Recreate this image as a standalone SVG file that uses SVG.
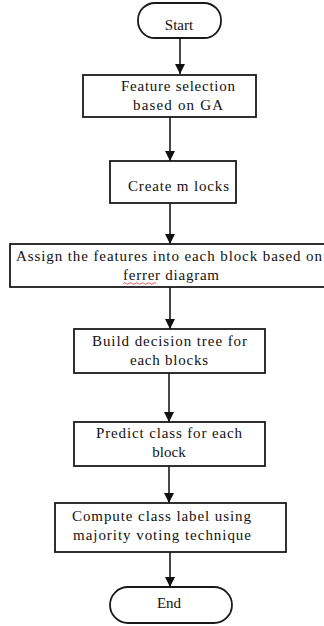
<svg xmlns="http://www.w3.org/2000/svg" width="324" height="626" viewBox="0 0 324 626">
<style>
.box{fill:#fff;stroke:#1a1a1a;stroke-width:1.8}
text{font-family:'Liberation Serif','DejaVu Serif',serif;font-size:15px;fill:#111}
.c{stroke:#1a1a1a;stroke-width:1.6;fill:none;marker-end:url(#ah)}
</style>
<defs>
<marker id="ah" viewBox="0 0 10 10" refX="10" refY="5" markerWidth="10" markerHeight="10" markerUnits="userSpaceOnUse" orient="auto">
<path d="M0,0 L10,5 L0,10 z" fill="#111"/>
</marker>
</defs>
<rect width="324" height="626" fill="#fff"/>
<g id="connectors">
<line class="c" x1="180" y1="38" x2="180" y2="74"/>
<line class="c" x1="170" y1="117" x2="170" y2="161"/>
<line class="c" x1="170" y1="203" x2="170" y2="244"/>
<line class="c" x1="170" y1="287" x2="170" y2="329"/>
<line class="c" x1="169" y1="373" x2="169" y2="422"/>
<line class="c" x1="169" y1="466" x2="169" y2="503"/>
<line class="c" x1="170" y1="552" x2="170" y2="587"/>
</g>
<g id="start">
<rect class="box" x="138" y="3" width="83" height="35" rx="17" ry="17"/>
<text x="179" y="30" text-anchor="middle">Start</text>
</g>
<g id="feature">
<rect class="box" x="83" y="75" width="173" height="42"/>
<text x="121" y="91" textLength="114" lengthAdjust="spacing">Feature selection</text>
<text x="133" y="110" textLength="90" lengthAdjust="spacing">based on GA</text>
</g>
<g id="create">
<rect class="box" x="110" y="161" width="126" height="42"/>
<text x="128" y="191" textLength="101" lengthAdjust="spacing">Create m locks</text>
</g>
<g id="assign">
<rect class="box" x="10" y="244" width="318" height="43"/>
<text x="16" y="261" textLength="306" lengthAdjust="spacing">Assign the features into each block based on</text>
<text x="123" y="280" textLength="96" lengthAdjust="spacing">ferrer diagram</text>
<path d="M123,283.5 q1.5,-1.5 3,0 t3,0 t3,0 t3,0 t3,0 t3,0 t3,0 t3,0 t3,0 t3,0 t3,0" fill="none" stroke="#e03030" stroke-width="0.8"/>
</g>
<g id="build">
<rect class="box" x="74" y="329" width="191" height="44"/>
<text x="92" y="346" textLength="155" lengthAdjust="spacing">Build decision tree for</text>
<text x="130" y="365" textLength="78" lengthAdjust="spacing">each blocks</text>
</g>
<g id="predict">
<rect class="box" x="74" y="422" width="191" height="44"/>
<text x="96" y="438" textLength="146" lengthAdjust="spacing">Predict class for each</text>
<text x="169" y="457" text-anchor="middle">block</text>
</g>
<g id="compute">
<rect class="box" x="55" y="503" width="231" height="49"/>
<text x="72" y="521" textLength="179" lengthAdjust="spacing">Compute class label using</text>
<text x="73" y="540" textLength="178" lengthAdjust="spacing">majority voting technique</text>
</g>
<g id="end">
<rect class="box" x="110" y="587" width="122" height="36" rx="18" ry="18"/>
<text x="169" y="608" text-anchor="middle">End</text>
</g>
</svg>
